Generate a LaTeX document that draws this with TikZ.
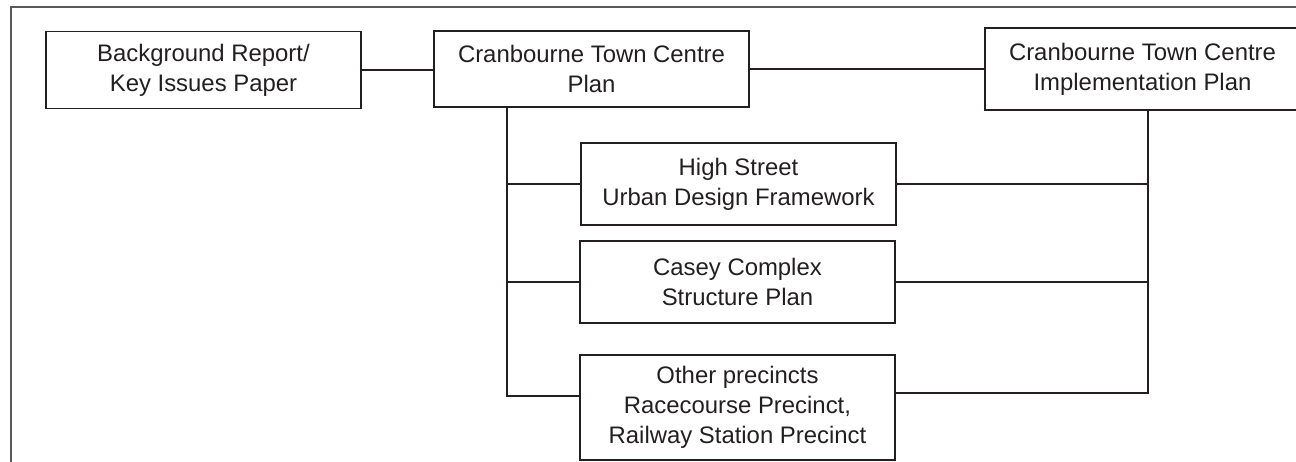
\documentclass[tikz,border=0pt]{standalone}
\usepackage{fontspec}
\setmainfont{Liberation Sans}
\usetikzlibrary{calc}
\definecolor{ink}{HTML}{231F20}
\tikzset{
    planbox/.style={draw=ink, line width=0.7pt, rectangle, text=ink,
        minimum width=6.3cm, align=center, inner sep=0pt,
        font=\fontsize{13.6}{17.2}\selectfont},
    link/.style={draw=ink, line width=1.6pt}
}

\begin{document}
\begin{tikzpicture}[x=0.02cm, y=-0.02cm]
    \useasboundingbox (0,0) rectangle (1296,462);
    \clip (0,0) rectangle (1296,462);
    \coordinate (F0) at (11,462);
    \coordinate (F1) at (11,7);
    \coordinate (F2) at (1296,7);
    \coordinate (L1) at (507,396);
    \coordinate (R1) at (1148,393);
      \node [planbox, minimum height=1.54cm] (bg) at (203.5,70)
        {Background Report/\\Key Issues Paper};
      \node [planbox, minimum height=1.52cm] (ctc) at (591.5,69)
        {Cranbourne Town Centre\\Plan};
      \node [planbox, minimum height=1.64cm] (impl) at (1142.5,69)
        {Cranbourne Town Centre\\Implementation Plan};
      \node [planbox, minimum height=1.64cm] (high) at (738.5,184)
        {High Street\\Urban Design Framework};
      \node [planbox, minimum height=1.64cm] (casey) at (737.5,282)
        {Casey Complex\\Structure Plan};
      \node [planbox, minimum height=2.1cm] (other) at (737.5,407.5)
        {Other precincts\\Racecourse Precinct,\\Railway Station Precinct};
      \draw [gray!70!black, line width=0.7pt] (F0)
        -- (F1) -- (F2);
      \draw [link] (bg.east)
        -- (bg.east -| ctc.west);
      \draw [link] (ctc.east)
        -- (ctc.east -| impl.west);
      \draw [link] (ctc.south -| L1)
        -- (L1) -- (L1 -| other.west);
      \draw [link] (L1 |- high.west)
        -- (high.west);
      \draw [link] (L1 |- casey.west)
        -- (casey.west);
      \draw [link] (impl.south -| R1)
        -- (R1) -- (R1 -| other.east);
      \draw [link] (high.east)
        -- (high.east -| R1);
      \draw [link] (casey.east)
        -- (casey.east -| R1);
  \end{tikzpicture}
\end{document}
